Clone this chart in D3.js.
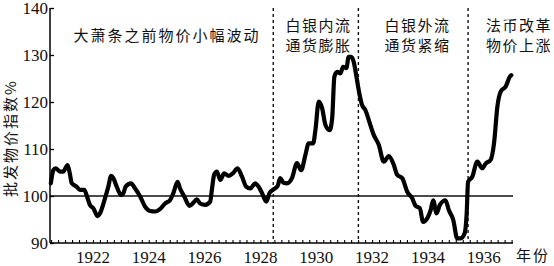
<!DOCTYPE html>
<html lang="zh">
<head>
  <meta charset="UTF-8" />
  <title>批发物价指数 1921-1937</title>
  <script src="https://d3js.org/d3.v7.min.js"></script>
  <style>
    body { margin: 0; background: #fff; }
    .num { font-family: "Liberation Serif", "DejaVu Serif", serif; font-size: 17px; fill: #111; }
    .cn { font-family: "Noto Sans CJK SC", sans-serif; font-size: 15px; fill: #111; }
  </style>
</head>
<body>
  <div id="chart"></div>
  <script>
    // year (decimal) and wholesale price index
    var years = [
      1920.49, 1920.58, 1920.66, 1920.82, 1920.93, 1921.09, 1921.17, 1921.24, 1921.41, 1921.53,
      1921.69, 1921.77, 1921.89, 1922.01, 1922.17, 1922.25, 1922.43, 1922.55, 1922.65, 1922.73,
      1922.85, 1923.01, 1923.09, 1923.17, 1923.36, 1923.51, 1923.69, 1923.87, 1924.05, 1924.23,
      1924.40, 1924.58, 1924.76, 1924.88, 1925.03, 1925.12, 1925.27, 1925.46, 1925.60, 1925.72,
      1925.84, 1926.02, 1926.20, 1926.26, 1926.34, 1926.44, 1926.56, 1926.70, 1926.86, 1927.01,
      1927.18, 1927.34, 1927.49, 1927.64, 1927.81, 1927.93, 1928.06, 1928.21, 1928.33, 1928.47,
      1928.62, 1928.71, 1928.83, 1928.95, 1929.13, 1929.31, 1929.46, 1929.61, 1929.73, 1929.89,
      1929.97, 1930.09, 1930.21, 1930.33, 1930.48, 1930.57, 1930.65, 1930.75, 1930.87, 1930.96,
      1931.08, 1931.16, 1931.25, 1931.34, 1931.44, 1931.52, 1931.64, 1931.76, 1931.88, 1932.06,
      1932.24, 1932.42, 1932.60, 1932.78, 1932.90, 1933.08, 1933.26, 1933.44, 1933.56, 1933.71,
      1933.83, 1933.98, 1934.10, 1934.19, 1934.31, 1934.43, 1934.63, 1934.75, 1934.91, 1935.05,
      1935.17, 1935.32, 1935.39, 1935.44, 1935.59, 1935.77, 1935.95, 1936.07, 1936.25, 1936.37,
      1936.49, 1936.61, 1936.79, 1936.94, 1936.99
    ];
    var priceIndex = [
      102.7, 105.5, 105.9, 105.2, 105.2, 106.6, 104.8, 102.7, 102.0, 101.3,
      101.3, 100.2, 98.1, 97.4, 95.7, 96.3, 99.5, 102.0, 104.3, 103.8,
      102.0, 100.2, 100.6, 102.0, 102.7, 101.6, 99.9, 97.7, 96.8, 96.7,
      97.2, 98.4, 99.1, 100.6, 103.0, 101.6, 99.9, 97.9, 98.6, 99.3,
      98.4, 98.1, 98.8, 101.3, 104.5, 105.2, 103.4, 104.8, 104.3, 104.8,
      105.9, 104.1, 102.0, 101.6, 102.7, 102.0, 100.6, 98.8, 100.7, 101.4,
      102.2, 103.8, 102.8, 102.7, 103.8, 107.0, 105.5, 108.7, 111.2, 111.2,
      114.0, 120.1, 118.7, 115.1, 114.0, 116.5, 125.4, 126.4, 126.1, 127.5,
      127.2, 129.6, 129.6, 128.6, 125.4, 122.6, 119.4, 118.3, 116.2, 113.0,
      110.9, 107.3, 108.5, 106.6, 104.5, 103.8, 100.9, 99.5, 97.9, 97.4,
      94.5, 95.3, 97.0, 99.1, 96.3, 98.1, 99.1, 97.0, 94.9, 91.0,
      91.0, 92.1, 96.3, 103.0, 104.1, 107.3, 105.9, 106.9, 107.7, 111.2,
      119.0, 122.2, 123.3, 125.4, 125.7
    ];
    var yTicks = [90, 100, 110, 120, 130, 140];
    var xLabels = [1922, 1924, 1926, 1928, 1930, 1932, 1934, 1936];
    var phaseBreaks = [1928.46, 1931.51, 1935.44];
    var phaseLabels = [
      { x: 1921.3, lines: ['大萧条之前物价小幅波动'] },
      { x: 1928.9, lines: ['白银内流', '通货膨胀'] },
      { x: 1932.45, lines: ['白银外流', '通货紧缩'] },
      { x: 1936.08, lines: ['法币改革', '物价上涨'] }
    ];

    var width = 554, height = 266;
    var plotLeft = 50, plotRight = 513, plotTop = 8, plotBottom = 243;

    var x = d3.scaleLinear().domain([1920.46, 1937.05]).range([plotLeft, plotRight]);
    var y = d3.scaleLinear().domain([90, 140]).range([plotBottom, plotTop]);

    var svg = d3.select('#chart').append('svg')
      .attr('width', width)
      .attr('height', height);

    // reference line at 100
    svg.append('line')
      .attr('x1', plotLeft).attr('x2', plotRight)
      .attr('y1', y(100)).attr('y2', y(100))
      .attr('stroke', '#111').attr('stroke-width', 1.3);

    // dashed phase separators
    svg.selectAll('.sep').data(phaseBreaks).enter().append('line')
      .attr('class', 'sep')
      .attr('x1', d => x(d)).attr('x2', d => x(d))
      .attr('y1', plotTop).attr('y2', plotBottom)
      .attr('stroke', '#111').attr('stroke-width', 1.4)
      .attr('stroke-dasharray', '3,3');

    // y axis
    var yAxis = svg.append('g')
      .attr('transform', 'translate(' + plotLeft + ',0)')
      .call(d3.axisRight(y).tickValues(yTicks).tickSize(4).tickFormat(''));
    yAxis.select('.domain').attr('stroke-width', 1.5).attr('d', 'M0,' + plotTop + 'V' + plotBottom);
    yAxis.selectAll('.tick line').attr('stroke-width', 1.3);

    svg.selectAll('.ylab').data(yTicks).enter().append('text')
      .attr('class', 'num')
      .attr('x', plotLeft - 2)
      .attr('y', d => y(d))
      .attr('dy', '0.38em')
      .attr('text-anchor', 'end')
      .text(d => d);

    // x axis: quarterly ticks pointing up
    var quarters = d3.range(Math.ceil(1920.46 * 4), Math.floor(1937.05 * 4) + 1).map(q => q / 4);
    var xAxis = svg.append('g')
      .attr('transform', 'translate(0,' + plotBottom + ')')
      .call(d3.axisTop(x).tickValues(quarters).tickSize(3).tickFormat(''));
    xAxis.select('.domain').attr('stroke-width', 1.5).attr('d', 'M' + plotLeft + ',0H' + plotRight);
    xAxis.selectAll('.tick line').attr('stroke-width', 1.1);

    svg.selectAll('.xlab').data(xLabels).enter().append('text')
      .attr('class', 'num')
      .attr('x', d => x(d))
      .attr('y', 263)
      .attr('text-anchor', 'middle')
      .text(d => d);

    svg.append('text')
      .attr('class', 'cn')
      .attr('x', 516).attr('y', 261)
      .style('letter-spacing', '2px')
      .text('年份');

    // y axis title
    svg.append('text')
      .attr('class', 'cn')
      .attr('transform', 'translate(16,138) rotate(-90)')
      .attr('text-anchor', 'middle')
      .style('letter-spacing', '2px')
      .text('批发物价指数%');

    // phase annotations
    phaseLabels.forEach(p => {
      p.lines.forEach((t, i) => {
        svg.append('text')
          .attr('class', 'cn')
          .attr('x', x(p.x))
          .attr('y', (p.lines.length === 1 ? 41 : 31) + i * 20)
          .style('letter-spacing', p.lines.length === 1 ? '2px' : '1.5px')
          .text(t);
      });
    });

    // price index line
    var pts = years.map((yr, i) => [yr, priceIndex[i]]);
    var line = d3.line()
      .x(d => x(d[0]))
      .y(d => y(d[1]))
      .curve(d3.curveMonotoneX);

    svg.append('path')
      .datum(pts)
      .attr('fill', 'none')
      .attr('stroke', '#000')
      .attr('stroke-width', 4.2)
      .attr('stroke-linejoin', 'round')
      .attr('stroke-linecap', 'round')
      .attr('d', line);
  </script>
</body>
</html>
